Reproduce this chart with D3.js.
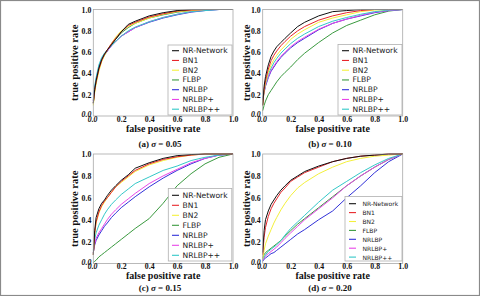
<!DOCTYPE html>
<html><head><meta charset="utf-8">
<script src="https://cdn.jsdelivr.net/npm/d3@7"></script>
<style>body{margin:0;background:#fff}svg{display:block}</style>
</head><body>
<script>
// ---- data ----
const fprGrid = [0, .01, .02, .04, .06, .08, .10, .13, .16, .20, .25, .30, .40, .50, .60, .70, .80, .90, 1.0];
const seriesNames = ["NR-Network", "BN1", "BN2", "FLBP", "NRLBP", "NRLBP+", "NRLBP++"];
const seriesColors = ["#111111", "#e8262b", "#f4f03c", "#3a9a3f", "#3131d8", "#e846e8", "#33c8c8"];
const panelCaptions = ["(a)", "(b)", "(c)", "(d)"];
const sigmaValues = ["0.05", "0.10", "0.15", "0.20"];
const tickLabels = ["0.0", "0.2", "0.4", "0.6", "0.8", "1.0"];
const tickValues = [0, 0.2, 0.4, 0.6, 0.8, 1.0];

const tprA = [
  [0.12,0.25,0.33,0.45,0.53,0.58,0.62,0.67,0.72,0.79,0.86,0.89,0.94,0.97,0.99,1.0,1.0,1.0,1.0],
  [0.12,0.24,0.32,0.44,0.52,0.58,0.62,0.68,0.73,0.79,0.85,0.88,0.93,0.96,0.985,0.995,1.0,1.0,1.0],
  [0.10,0.22,0.30,0.42,0.51,0.57,0.62,0.68,0.74,0.80,0.84,0.87,0.92,0.955,0.98,0.99,1.0,1.0,1.0],
  [0.12,0.24,0.32,0.44,0.52,0.57,0.61,0.67,0.72,0.78,0.83,0.87,0.92,0.95,0.975,0.99,1.0,1.0,1.0],
  [0.14,0.26,0.34,0.46,0.53,0.58,0.61,0.66,0.70,0.75,0.79,0.83,0.88,0.92,0.95,0.975,0.99,1.0,1.0],
  [0.14,0.26,0.34,0.46,0.53,0.58,0.61,0.66,0.70,0.75,0.79,0.83,0.885,0.925,0.955,0.98,0.995,1.0,1.0],
  [0.15,0.28,0.36,0.48,0.55,0.59,0.62,0.66,0.70,0.75,0.80,0.835,0.885,0.925,0.955,0.98,0.99,1.0,1.0]
];
const tprB = [
  [0.10,0.28,0.37,0.48,0.56,0.61,0.65,0.69,0.73,0.78,0.84,0.88,0.94,0.98,0.99,1.0,1.0,1.0,1.0],
  [0.10,0.25,0.33,0.44,0.52,0.57,0.61,0.66,0.70,0.75,0.80,0.84,0.90,0.94,0.97,0.99,1.0,1.0,1.0],
  [0.10,0.23,0.31,0.41,0.48,0.53,0.57,0.62,0.66,0.72,0.77,0.81,0.88,0.92,0.95,0.98,0.995,1.0,1.0],
  [0.05,0.10,0.14,0.20,0.24,0.28,0.32,0.37,0.41,0.46,0.53,0.59,0.69,0.78,0.85,0.90,0.95,0.985,1.0],
  [0.15,0.22,0.28,0.36,0.42,0.46,0.50,0.55,0.59,0.64,0.69,0.73,0.81,0.87,0.91,0.94,0.97,0.99,1.0],
  [0.15,0.23,0.29,0.37,0.43,0.47,0.51,0.56,0.60,0.65,0.70,0.74,0.815,0.87,0.91,0.945,0.975,0.99,1.0],
  [0.15,0.24,0.30,0.39,0.45,0.50,0.54,0.59,0.63,0.68,0.73,0.77,0.84,0.89,0.925,0.955,0.98,0.995,1.0]
];
const tprC = [
  [0.08,0.30,0.42,0.50,0.55,0.58,0.62,0.67,0.71,0.76,0.81,0.87,0.92,0.96,0.985,0.995,1.0,1.0,1.0],
  [0.08,0.28,0.38,0.47,0.53,0.57,0.60,0.65,0.70,0.75,0.80,0.85,0.91,0.95,0.975,0.99,1.0,1.0,1.0],
  [0.08,0.27,0.37,0.46,0.52,0.56,0.60,0.65,0.70,0.74,0.79,0.84,0.90,0.94,0.97,0.99,1.0,1.0,1.0],
  [0.01,0.02,0.03,0.06,0.08,0.10,0.12,0.15,0.18,0.22,0.27,0.32,0.41,0.55,0.71,0.82,0.91,0.97,1.0],
  [0.10,0.17,0.21,0.26,0.30,0.34,0.37,0.42,0.46,0.51,0.56,0.61,0.70,0.78,0.85,0.91,0.96,0.99,1.0],
  [0.10,0.18,0.23,0.28,0.32,0.36,0.40,0.45,0.49,0.54,0.59,0.64,0.73,0.80,0.86,0.92,0.96,0.99,1.0],
  [0.12,0.22,0.28,0.35,0.40,0.45,0.49,0.54,0.58,0.63,0.68,0.73,0.79,0.85,0.89,0.94,0.97,0.99,1.0]
];
const tprD = [
  [0.10,0.30,0.40,0.48,0.54,0.58,0.62,0.67,0.71,0.76,0.80,0.84,0.89,0.93,0.96,0.98,0.99,1.0,1.0],
  [0.08,0.24,0.33,0.43,0.50,0.55,0.59,0.65,0.69,0.75,0.79,0.83,0.88,0.93,0.96,0.98,0.99,1.0,1.0],
  [0.04,0.12,0.18,0.25,0.31,0.37,0.42,0.49,0.55,0.62,0.69,0.74,0.82,0.88,0.93,0.96,0.98,0.99,1.0],
  [0.05,0.08,0.10,0.12,0.14,0.16,0.18,0.21,0.25,0.30,0.36,0.41,0.51,0.61,0.71,0.80,0.88,0.95,1.0],
  [0.02,0.04,0.05,0.07,0.09,0.10,0.12,0.15,0.18,0.22,0.27,0.31,0.40,0.48,0.60,0.71,0.83,0.93,1.0],
  [0.03,0.05,0.07,0.09,0.11,0.13,0.15,0.19,0.23,0.28,0.34,0.40,0.50,0.60,0.71,0.80,0.88,0.95,1.0],
  [0.04,0.06,0.08,0.11,0.13,0.15,0.17,0.21,0.26,0.32,0.38,0.44,0.56,0.67,0.75,0.83,0.90,0.96,1.0]
];
const panelData = [tprA, tprB, tprC, tprD];

// ---- layout ----
const layout = [
  {L:93.3, R:233, T:9.5, B:116, lg:{x:168, y:45, w:64, h:70, fs:7.6, r0:50.7, dr:9.75, lx:172, lw:7, tx:182.5}, ylx:74, xlb:132, capb:147, cx:160},
  {L:262.7, R:402.7, T:9.5, B:116, lg:{x:338, y:44.5, w:64, h:70.5, fs:7.6, r0:50.7, dr:9.75, lx:342, lw:7, tx:352.5}, ylx:246.5, xlb:132, capb:147, cx:330},
  {L:93.3, R:233, T:154, B:263.5, lg:{x:168.3, y:188.5, w:63.5, h:72.5, fs:7.6, r0:195.3, dr:10, lx:172, lw:7, tx:182.5}, ylx:74, xlb:279.3, capb:291, cx:160},
  {L:262.7, R:402.7, T:154, B:263.5, lg:{x:345, y:196.5, w:57, h:64.5, fs:6, r0:203.7, dr:8.9, lx:349, lw:7, tx:362.5}, ylx:246.5, xlb:279.3, capb:291, cx:330}
];

const W = 480, H = 296;
const svg = d3.select("body").append("svg").attr("width", W).attr("height", H);
svg.append("rect").attr("x",0.5).attr("y",0.5).attr("width",W-1).attr("height",H-1)
  .attr("fill","#fff").attr("stroke","#8a8a8a").attr("stroke-width",1.2);

const serif = "'Liberation Serif','Times New Roman',serif";
const sans = "'DejaVu Sans',sans-serif";

layout.forEach((p, pi) => {
  const x = d3.scaleLinear().domain([0,1]).range([p.L, p.R]);
  const y = d3.scaleLinear().domain([0,1]).range([p.B, p.T]);
  const g = svg.append("g");

  // curves
  const line = d3.line().x((d,i) => x(fprGrid[i])).y(d => y(d));
  const data = panelData[pi];
  const order = [3,4,5,6,2,1,0];
  order.forEach(si => {
    g.append("path").attr("d", line(data[si])).attr("fill","none")
      .attr("stroke", seriesColors[si]).attr("stroke-width", 1).attr("stroke-linejoin","round");
  });

  // frame
  g.append("rect").attr("x", p.L).attr("y", p.T).attr("width", p.R-p.L).attr("height", p.B-p.T)
    .attr("fill","none").attr("stroke","#a8a8a8").attr("stroke-width",0.8);

  // axes ticks via d3 axes (no tick lines)
  const xa = d3.axisBottom(x).tickValues(tickValues).tickFormat((d,i)=>tickLabels[i]).tickSize(0).tickPadding(0);
  const ya = d3.axisLeft(y).tickValues(tickValues).tickFormat((d,i)=>tickLabels[i]).tickSize(0).tickPadding(2);
  const gx = g.append("g").attr("transform", `translate(0,${p.B})`).call(xa);
  const gy = g.append("g").attr("transform", `translate(${p.L},0)`).call(ya);
  [gx, gy].forEach(a => {
    a.select(".domain").remove();
    a.selectAll("text").attr("font-family", serif).attr("font-weight","bold").attr("font-size", 7.8).attr("fill","#111");
  });
  gx.selectAll("text").filter((d)=>d===0).attr("font-style","italic").attr("dx", "-0.15em");
  gy.selectAll("text").filter((d)=>d===0).attr("font-style","italic").attr("dy", "0.1em");

  // axis labels
  g.append("text").attr("x", (p.L+p.R)/2).attr("y", p.xlb).attr("text-anchor","middle")
    .attr("font-family", serif).attr("font-weight","bold").attr("font-size", 10).attr("fill","#111")
    .text("false positive rate");
  g.append("text").attr("transform", `translate(${p.ylx},${(p.T+p.B)/2}) rotate(-90)`)
    .attr("text-anchor","middle").attr("dominant-baseline","central")
    .attr("font-family", serif).attr("font-weight","bold").attr("font-size", 10.5).attr("fill","#111")
    .text("true positive rate");

  // caption
  const cap = g.append("text").attr("x", p.cx).attr("y", p.capb).attr("text-anchor","middle")
    .attr("font-family", serif).attr("font-weight","bold").attr("font-size", 9).attr("fill","#111");
  cap.append("tspan").text(panelCaptions[pi] + " ");
  cap.append("tspan").attr("font-style","italic").text("σ");
  cap.append("tspan").text(" = " + sigmaValues[pi]);

  // legend
  const lg = p.lg;
  g.append("rect").attr("x", lg.x).attr("y", lg.y).attr("width", lg.w).attr("height", lg.h)
    .attr("fill","#fff").attr("stroke","#b0b0b0").attr("stroke-width",0.8);
  seriesNames.forEach((nm, si) => {
    const yy = lg.r0 + si*lg.dr;
    g.append("line").attr("x1", lg.lx).attr("x2", lg.lx+lg.lw).attr("y1", yy).attr("y2", yy)
      .attr("stroke", seriesColors[si]).attr("stroke-width", 1.1);
    g.append("text").attr("x", lg.tx).attr("y", yy).attr("dominant-baseline","central")
      .attr("font-family", sans).attr("font-size", lg.fs).attr("fill","#222").text(nm);
  });
});
</script>
</body></html>
